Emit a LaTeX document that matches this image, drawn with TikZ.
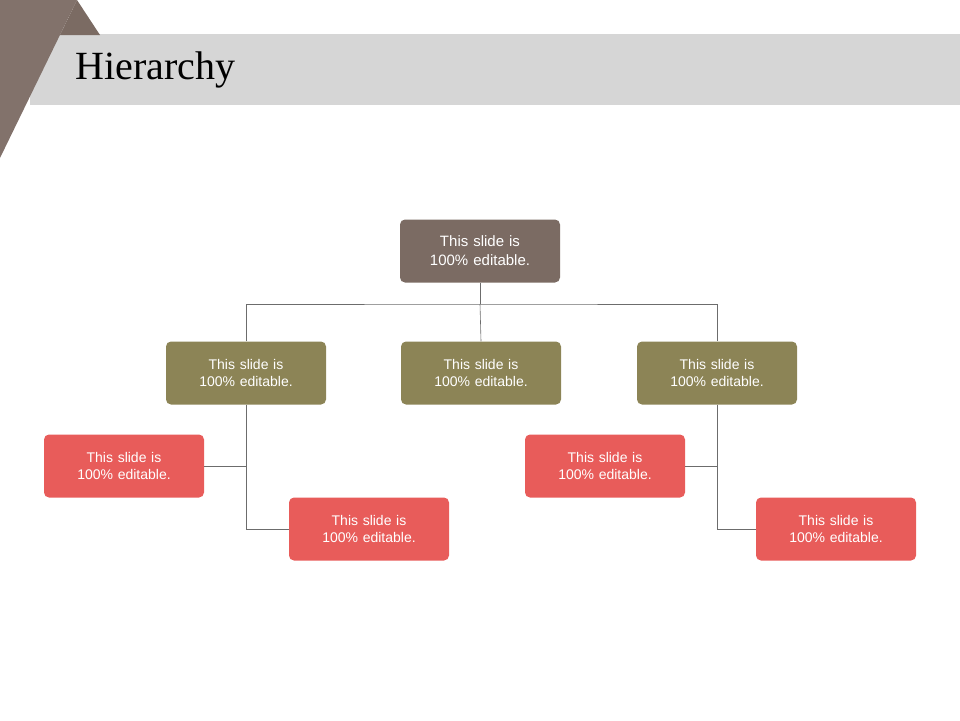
\documentclass[tikz,border=0pt]{standalone}
\usepackage{fontspec}
\setmainfont{Liberation Sans}
\newfontfamily\titlefont{Liberation Serif}
\usetikzlibrary{positioning}
\definecolor{topbrown}{HTML}{7B6B63}
\definecolor{midolive}{HTML}{8C8456}
\definecolor{leafred}{HTML}{E85C5A}
\definecolor{bargray}{HTML}{D6D6D6}
\tikzset{
  x=1pt, y=-1pt,
  box/.style={rounded corners=5pt, minimum width=160pt, minimum height=63pt,
    text width=140pt, align=center, text=white, font=\fontsize{14}{17}\selectfont},
  topbox/.style={box, fill=topbrown, font=\fontsize{15}{19}\selectfont, text width=110pt},
  midbox/.style={box, fill=midolive},
  leafbox/.style={box, fill=leafred},
  link/.style={draw=gray!85!black, line width=0.6pt},
}
\begin{document}
\begin{tikzpicture}
  \useasboundingbox (0,0) rectangle (960,720);
  % header
  \fill[bargray] (30,34) rectangle (960,105);
  \fill[topbrown!95!white] (0,0) -- (77,0) -- (0,158) -- cycle;
  \fill[topbrown] (77,0) -- (100,35) -- (60,35) -- cycle;
  \node[anchor=west, font=\titlefont\fontsize{40}{44}\selectfont] (title) at (72,70) {Hierarchy};

  % boxes
  \node[topbox] (root) at (480,251) {This slide is 100\% editable.};
  \node[midbox] (m1) at (246,373) {This slide is 100\% editable.};
  \node[midbox] (m2) at (481,373) {This slide is 100\% editable.};
  \node[midbox] (m3) at (717,373) {This slide is 100\% editable.};
  \node[leafbox] (l1) at (124,466) {This slide is 100\% editable.};
  \node[leafbox] (l2) at (369,529) {This slide is 100\% editable.};
  \node[leafbox] (l3) at (605,466) {This slide is 100\% editable.};
  \node[leafbox] (l4) at (836,529) {This slide is 100\% editable.};

  % links
  \coordinate (bus) at (480,304);
  \draw[link] (root.south) -- (bus);
  \draw[link] (m1.north) |- (bus) -| (m3.north);
  \draw[link] (bus) -- (m2.north);
  \draw[link] (m1.south) |- (l2.west);
  \draw[link] (m1.south |- l1.east) -- (l1.east);
  \draw[link] (m3.south) |- (l4.west);
  \draw[link] (m3.south |- l3.east) -- (l3.east);
\end{tikzpicture}
\end{document}
